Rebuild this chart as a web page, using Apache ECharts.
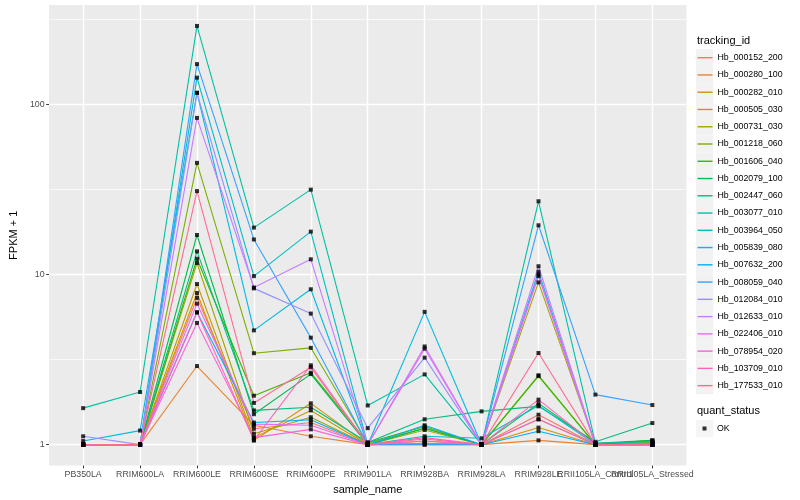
<!DOCTYPE html>
<html>
<head>
<meta charset="utf-8">
<script src="https://cdn.jsdelivr.net/npm/echarts@6/dist/echarts.min.js"></script>
<style>
html,body{margin:0;padding:0;background:#fff;}
#chart{width:800px;height:500px;}
</style>
</head>
<body>
<div id="chart"></div>
<script>
// ---- data ----
const categories = ['PB350LA','RRIM600LA','RRIM600LE','RRIM600SE','RRIM600PE','RRIM901LA','RRIM928BA','RRIM928LA','RRIM928LE','RRII105LA_Control','RRII105LA_Stressed'];
const trackingIds = ['Hb_000152_200','Hb_000280_100','Hb_000282_010','Hb_000505_030','Hb_000731_030','Hb_001218_060','Hb_001606_040','Hb_002079_100','Hb_002447_060','Hb_003077_010','Hb_003964_050','Hb_005839_080','Hb_007632_200','Hb_008059_040','Hb_012084_010','Hb_012633_010','Hb_022406_010','Hb_078954_020','Hb_103709_010','Hb_177533_010'];
const palette = ['#F8766D','#EA8331','#D89000','#C09B00','#A3A500','#7CAE00','#39B600','#00BB4E','#00BF7D','#00C1A3','#00BFC4','#00BAE0','#00B0F6','#35A2FF','#9590FF','#C77CFF','#E76BF3','#FA62DB','#FF62BC','#FF6C91'];

// FPKM + 1 per sample (order of categories)
const Hb_000152_200 = [1.0, 1.0, 7.3, 1.24, 1.35, 1.0, 1.02, 1.0, 1.5, 1.0, 1.02];
const Hb_000280_100 = [1.0, 1.0, 2.9, 1.30, 1.12, 1.0, 1.0, 1.0, 1.06, 1.0, 1.0];
const Hb_000282_010 = [1.0, 1.0, 7.8, 1.06, 1.75, 1.0, 1.02, 1.0, 1.26, 1.0, 1.02];
const Hb_000505_030 = [1.0, 1.0, 8.8, 1.10, 1.59, 1.0, 1.05, 1.0, 1.41, 1.0, 1.03];
const Hb_000731_030 = [1.0, 1.0, 11.7, 1.16, 1.45, 1.0, 1.22, 1.0, 9.0, 1.0, 1.03];
const Hb_001218_060 = [1.0, 1.0, 45.4, 3.45, 3.71, 1.02, 1.25, 1.0, 2.56, 1.0, 1.05];
const Hb_001606_040 = [1.0, 1.0, 12.4, 1.94, 2.65, 1.03, 1.28, 1.0, 2.53, 1.0, 1.06];
const Hb_002079_100 = [1.0, 1.0, 17.1, 1.51, 2.60, 1.0, 1.25, 1.0, 1.75, 1.02, 1.06];
const Hb_002447_060 = [1.0, 1.0, 13.7, 1.59, 1.66, 1.03, 1.41, 1.57, 1.68, 1.04, 1.34];
const Hb_003077_010 = [1.64, 2.04, 290, 18.9, 31.6, 1.70, 2.59, 1.0, 27.0, 1.02, 1.04];
const Hb_003964_050 = [1.0, 1.0, 144, 9.8, 17.9, 1.0, 1.12, 1.09, 1.70, 1.0, 1.0];
const Hb_005839_080 = [1.05, 1.21, 117.5, 4.7, 8.2, 1.0, 6.04, 1.0, 10.4, 1.0, 1.0];
const Hb_007632_200 = [1.0, 1.0, 6.0, 1.35, 1.40, 1.0, 1.30, 1.0, 1.20, 1.0, 1.0];
const Hb_008059_040 = [1.0, 1.0, 173, 16.1, 4.26, 1.0, 1.0, 1.0, 19.5, 1.97, 1.71];
const Hb_012084_010 = [1.12, 1.0, 117, 8.3, 5.9, 1.25, 3.25, 1.0, 10.0, 1.0, 1.0];
const Hb_012633_010 = [1.0, 1.0, 83.5, 8.4, 12.3, 1.0, 3.78, 1.0, 11.2, 1.0, 1.0];
const Hb_022406_010 = [1.0, 1.0, 6.75, 1.32, 1.30, 1.0, 3.67, 1.0, 9.8, 1.0, 1.0];
const Hb_078954_020 = [1.0, 1.0, 5.2, 1.10, 1.23, 1.0, 1.05, 1.0, 1.41, 1.0, 1.0];
const Hb_103709_010 = [1.0, 1.0, 6.0, 1.06, 2.93, 1.0, 1.10, 1.0, 1.84, 1.0, 1.0];
const Hb_177533_010 = [1.0, 1.0, 31.0, 1.76, 2.85, 1.0, 1.08, 1.0, 3.46, 1.0, 1.0];

const seriesValues = [Hb_000152_200,Hb_000280_100,Hb_000282_010,Hb_000505_030,Hb_000731_030,Hb_001218_060,Hb_001606_040,Hb_002079_100,Hb_002447_060,Hb_003077_010,Hb_003964_050,Hb_005839_080,Hb_007632_200,Hb_008059_040,Hb_012084_010,Hb_012633_010,Hb_022406_010,Hb_078954_020,Hb_103709_010,Hb_177533_010];

const yTickValues = [1, 10, 100];
const yTickLabels = ['1', '10', '100'];
const yMinorValues = [Math.sqrt(10), Math.sqrt(1000), Math.sqrt(100000)];

// ---- build ----
const FONT = "'Liberation Sans', Arial, Helvetica, sans-serif";
const log = Math.log10;
let allMax = -Infinity, allMin = Infinity;
seriesValues.forEach(a => a.forEach(v => { allMax = Math.max(allMax, log(v)); allMin = Math.min(allMin, log(v)); }));
const pad = 0.05 * (allMax - allMin);
const yMin = allMin - pad, yMax = allMax + pad;
const catIdx = categories.map((c, i) => i);
const evenIdx = catIdx.filter(i => i % 2 === 0);
const oddIdx = catIdx.filter(i => i % 2 === 1);

const series = [];
const points = [];
seriesValues.forEach((vals, s) => {
  const data = vals.map((v, i) => [i, log(v)]);
  data.forEach(d => points.push(d));
  series.push({
    name: trackingIds[s], type: 'line', data: data,
    symbol: 'none', showSymbol: false,
    color: palette[s],
    lineStyle: { width: 1.1, color: palette[s] },
    emphasis: { disabled: true }, silent: true, z: 2
  });
});
series.push({
  name: 'OK', type: 'scatter', data: points,
  symbol: 'rect', symbolSize: 4,
  itemStyle: { color: '#000000' },
  emphasis: { disabled: true }, silent: true, z: 3
});

const legendTop = 57.7 - 8.63;
const okTop = 428.5 - 8.63;

const xLabelStyle = { formatter: v => categories[Math.round(v)], color: '#4D4D4D',
  fontSize: 8.8, margin: 4.5, hideOverlap: false, showMinLabel: true, showMaxLabel: true, fontFamily: FONT };

const option = {
  animation: false,
  textStyle: { fontFamily: FONT },
  title: [
    { text: 'tracking_id', left: 697, top: 35, padding: 0,
      textStyle: { fontSize: 11, fontWeight: 'normal', color: '#000', fontFamily: FONT, lineHeight: 11 } },
    { text: 'quant_status', left: 697, top: 405.5, padding: 0,
      textStyle: { fontSize: 11, fontWeight: 'normal', color: '#000', fontFamily: FONT, lineHeight: 11 } }
  ],
  legend: [
    { data: trackingIds, orient: 'vertical', left: 696, top: legendTop, padding: 0,
      itemWidth: 17.26, itemHeight: 17.26, itemGap: 0, icon: 'rect',
      itemStyle: { color: '#F2F2F2' }, formatter: () => '', selectedMode: false, z: 1 },
    { data: trackingIds, orient: 'vertical', left: 697.5, top: legendTop, padding: 0,
      itemWidth: 15, itemHeight: 1.4, itemGap: 0, icon: 'rect', selectedMode: false, z: 2,
      textStyle: { fontSize: 8.8, lineHeight: 17.26, color: '#000', fontFamily: FONT } },
    { data: ['OK'], orient: 'vertical', left: 696, top: okTop, padding: 0,
      itemWidth: 17.26, itemHeight: 17.26, itemGap: 0, icon: 'rect',
      itemStyle: { color: '#F2F2F2' }, formatter: () => '', selectedMode: false, z: 1 },
    { data: ['OK'], orient: 'vertical', left: 702.5, top: okTop, padding: 0,
      itemWidth: 4, itemHeight: 4, itemGap: 0, icon: 'rect', selectedMode: false, z: 2,
      itemStyle: { color: '#000' },
      textStyle: { fontSize: 8.8, lineHeight: 17.26, color: '#000', fontFamily: FONT, padding: [0, 0, 0, 5.5] } }
  ],
  grid: { left: 40, right: 113.5, top: 5, bottom: 33, show: true, backgroundColor: '#EBEBEB', borderWidth: 0 },
  xAxis: [
    {
      type: 'value', min: -0.6, max: 10.6, position: 'bottom',
      name: 'sample_name', nameLocation: 'middle', nameGap: 17,
      nameTextStyle: { fontSize: 11, color: '#000', fontFamily: FONT },
      axisLine: { show: false, onZero: false },
      axisTick: { show: true, length: 2.75, customValues: catIdx, lineStyle: { color: '#333333', width: 1 } },
      axisLabel: Object.assign({ customValues: evenIdx }, xLabelStyle),
      splitLine: { show: true, lineStyle: { color: '#FFFFFF', width: 1.4 } }
    },
    {
      type: 'value', min: -0.6, max: 10.6, position: 'bottom', offset: 0,
      axisLine: { show: false, onZero: false },
      axisTick: { show: false, customValues: oddIdx },
      axisLabel: Object.assign({ customValues: oddIdx }, xLabelStyle),
      splitLine: { show: false }
    }
  ],
  yAxis: [
    {
      type: 'value', min: yMin, max: yMax,
      name: 'FPKM + 1', nameLocation: 'middle', nameGap: 21.5,
      nameTextStyle: { fontSize: 11, color: '#000', fontFamily: FONT },
      axisLine: { show: false, onZero: false },
      axisTick: { show: true, length: 2.75, customValues: yTickValues.map(log), lineStyle: { color: '#333333', width: 1 } },
      axisLabel: { customValues: yTickValues.map(log),
        formatter: v => yTickLabels[yTickValues.findIndex(t => Math.abs(log(t) - v) < 1e-6)],
        color: '#4D4D4D', fontSize: 8.8, margin: 4.4, showMinLabel: true, showMaxLabel: true, fontFamily: FONT },
      splitLine: { show: true, lineStyle: { color: '#FFFFFF', width: 1.4 } }
    },
    {
      type: 'value', min: yMin, max: yMax, position: 'left',
      axisLine: { show: false, onZero: false },
      axisTick: { show: false, customValues: yMinorValues.map(log) },
      axisLabel: { show: false, customValues: yMinorValues.map(log) },
      splitLine: { show: true, lineStyle: { color: '#FFFFFF', width: 0.7 } }
    }
  ],
  series: series
};

const chart = echarts.init(document.getElementById('chart'), null, { renderer: 'canvas' });
chart.setOption(option);
</script>
</body>
</html>
